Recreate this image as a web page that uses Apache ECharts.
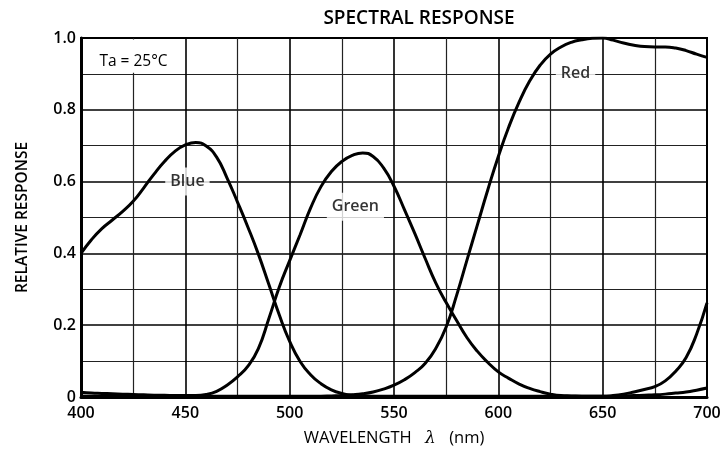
<!DOCTYPE html>
<html>
<head>
<meta charset="utf-8">
<script src="https://cdn.jsdelivr.net/npm/echarts@6/dist/echarts.min.js"></script>
<style>
html,body{margin:0;padding:0;background:#fff;}
#chart{width:724px;height:459px;}
</style>
</head>
<body>
<div id="chart"></div>
<script>
// ---- data ----
const titleText = 'SPECTRAL RESPONSE';
const xTicks = [400, 450, 500, 550, 600, 650, 700];
const yTicks = [0, 0.2, 0.4, 0.6, 0.8, 1.0];

const wavelength = [400,405,410,415,420,425,430,435,440,445,450,455,460,465,470,475,480,485,490,495,
  500,505,510,515,520,525,530,535,540,545,550,555,560,565,570,575,580,585,590,595,
  600,605,610,615,620,625,630,635,640,645,650,655,660,665,670,675,680,685,690,695,700];

const blue = [0.400,0.438,0.469,0.493,0.517,0.545,0.582,0.621,0.656,0.684,0.702,0.709,0.699,0.668,0.610,0.543,0.473,0.398,0.314,0.229,
  0.155,0.099,0.062,0.037,0.020,0.010,0.005,0.003,0.002,0.002,0.002,0.002,0.002,0.002,0.002,0.002,0.002,0.002,0.002,0.002,
  0.002,0.002,0.002,0.002,0.002,0.002,0.002,0.002,0.002,0.002,0.002,0.002,0.003,0.004,0.005,0.006,0.008,0.011,0.014,0.019,0.025];

const green = [0.013,0.011,0.010,0.009,0.008,0.007,0.006,0.005,0.005,0.004,0.004,0.004,0.007,0.016,0.033,0.056,0.086,0.135,0.218,0.306,
  0.380,0.452,0.526,0.586,0.628,0.656,0.673,0.680,0.670,0.638,0.587,0.522,0.455,0.385,0.318,0.263,0.213,0.165,0.127,0.096,
  0.070,0.052,0.036,0.024,0.015,0.008,0.004,0.003,0.002,0.002,0.002,0.004,0.008,0.014,0.021,0.029,0.045,0.072,0.110,0.175,0.262];

const red = [0.003,0.002,0.002,0.002,0.002,0.002,0.002,0.002,0.002,0.002,0.002,0.002,0.002,0.002,0.002,0.002,0.002,0.002,0.002,0.002,
  0.002,0.002,0.002,0.002,0.003,0.004,0.006,0.009,0.014,0.022,0.033,0.048,0.068,0.094,0.135,0.195,0.283,0.382,0.480,0.578,
  0.670,0.752,0.822,0.880,0.924,0.955,0.975,0.988,0.995,0.999,1.000,0.994,0.986,0.980,0.976,0.975,0.975,0.972,0.965,0.955,0.946];

// curve labels (text, wavelength, response where the label sits)
const labelNames = ['Blue', 'Green', 'Red'];
const labelX = [451, 531.5, 637];
const labelY = [0.6, 0.53, 0.9];

const noteText = 'Ta = 25°C';

function pairs(xs, ys) { return xs.map((x, i) => [x, ys[i]]); }

const chart = echarts.init(document.getElementById('chart'), null, {renderer: 'canvas'});
const FONT = '"Open Sans", "DejaVu Sans", sans-serif';

const curveStyle = {color: '#000', width: 3};

function curve(name, ys) {
  return {name: name, type: 'line', data: pairs(wavelength, ys), showSymbol: false, symbol: 'none',
    smooth: 0.5, lineStyle: curveStyle, z: 3};
}

const option = {
  backgroundColor: '#fff',
  animation: false,
  title: {
    text: titleText,
    left: 414, top: 4, textAlign: 'center',
    textStyle: {fontFamily: FONT, fontSize: 19, fontWeight: 600, color: '#000'}
  },
  grid: {
    left: 81, right: 17, top: 38, bottom: 62,
    show: true, borderColor: '#000', borderWidth: 2, backgroundColor: 'transparent'
  },
  xAxis: {
    type: 'value', min: 400, max: 700, interval: 50,
    name: '{a|WAVELENGTH}    {b|λ}    {a|(nm)}',
    nameLocation: 'middle', nameGap: 33,
    nameTextStyle: {
      rich: {
        a: {fontFamily: FONT, fontSize: 16.5, fontWeight: 500, color: '#000'},
        b: {fontFamily: '"DejaVu Serif", serif', fontSize: 17, fontStyle: 'italic', color: '#000'}
      }
    },
    axisLine: {show: true, onZero: false, lineStyle: {color: '#000', width: 3}},
    axisTick: {show: false},
    axisLabel: {fontFamily: FONT, fontSize: 16, fontWeight: 600, color: '#000', margin: 8,
      formatter: v => xTicks.includes(v) ? String(v) : ''},
    splitLine: {show: true, lineStyle: {color: '#000', width: 1.6}},
    minorTick: {show: false, splitNumber: 2},
    minorSplitLine: {show: true, lineStyle: {color: '#222', width: 1.2}}
  },
  yAxis: {
    type: 'value', min: 0, max: 1, interval: 0.2,
    name: 'RELATIVE RESPONSE',
    nameLocation: 'middle', nameGap: 50, nameRotate: 90,
    nameTextStyle: {fontFamily: FONT, fontSize: 15.5, fontWeight: 600, color: '#000'},
    axisLine: {show: true, onZero: false, lineStyle: {color: '#000', width: 3}},
    axisTick: {show: false},
    axisLabel: {fontFamily: FONT, fontSize: 16, fontWeight: 600, color: '#000', margin: 5,
      formatter: v => {
        const t = yTicks.find(k => Math.abs(k - v) < 1e-6);
        if (t === undefined) return '';
        return t === 0 ? '0' : t.toFixed(1);
      }},
    splitLine: {show: true, lineStyle: {color: '#000', width: 1.6}},
    minorTick: {show: false, splitNumber: 2},
    minorSplitLine: {show: true, lineStyle: {color: '#222', width: 1.2}}
  },
  series: [
    {
      name: 'note', type: 'line', data: [], silent: true,
      markArea: {
        silent: true,
        itemStyle: {color: '#fff'},
        label: {show: true, position: 'inside', formatter: noteText,
          fontFamily: FONT, fontSize: 15.5, fontWeight: 500, color: '#000', offset: [0, 5]},
        data: [[{coord: [401.5, 0.903]}, {coord: [448.8, 0.996]}]]
      }
    },
    curve('Blue', blue),
    curve('Green', green),
    curve('Red', red),
    {
      name: 'labels', type: 'scatter', symbolSize: 0, z: 5, silent: true,
      data: labelNames.map((n, i) => ({name: n, value: [labelX[i], labelY[i]]})),
      label: {
        show: true, position: 'inside', formatter: p => p.name,
        fontFamily: FONT, fontSize: 16, fontWeight: 600, color: '#000',
        backgroundColor: '#fff', padding: [6, 5, 6, 5]
      }
    }
  ]
};
chart.setOption(option);
</script>
</body>
</html>
